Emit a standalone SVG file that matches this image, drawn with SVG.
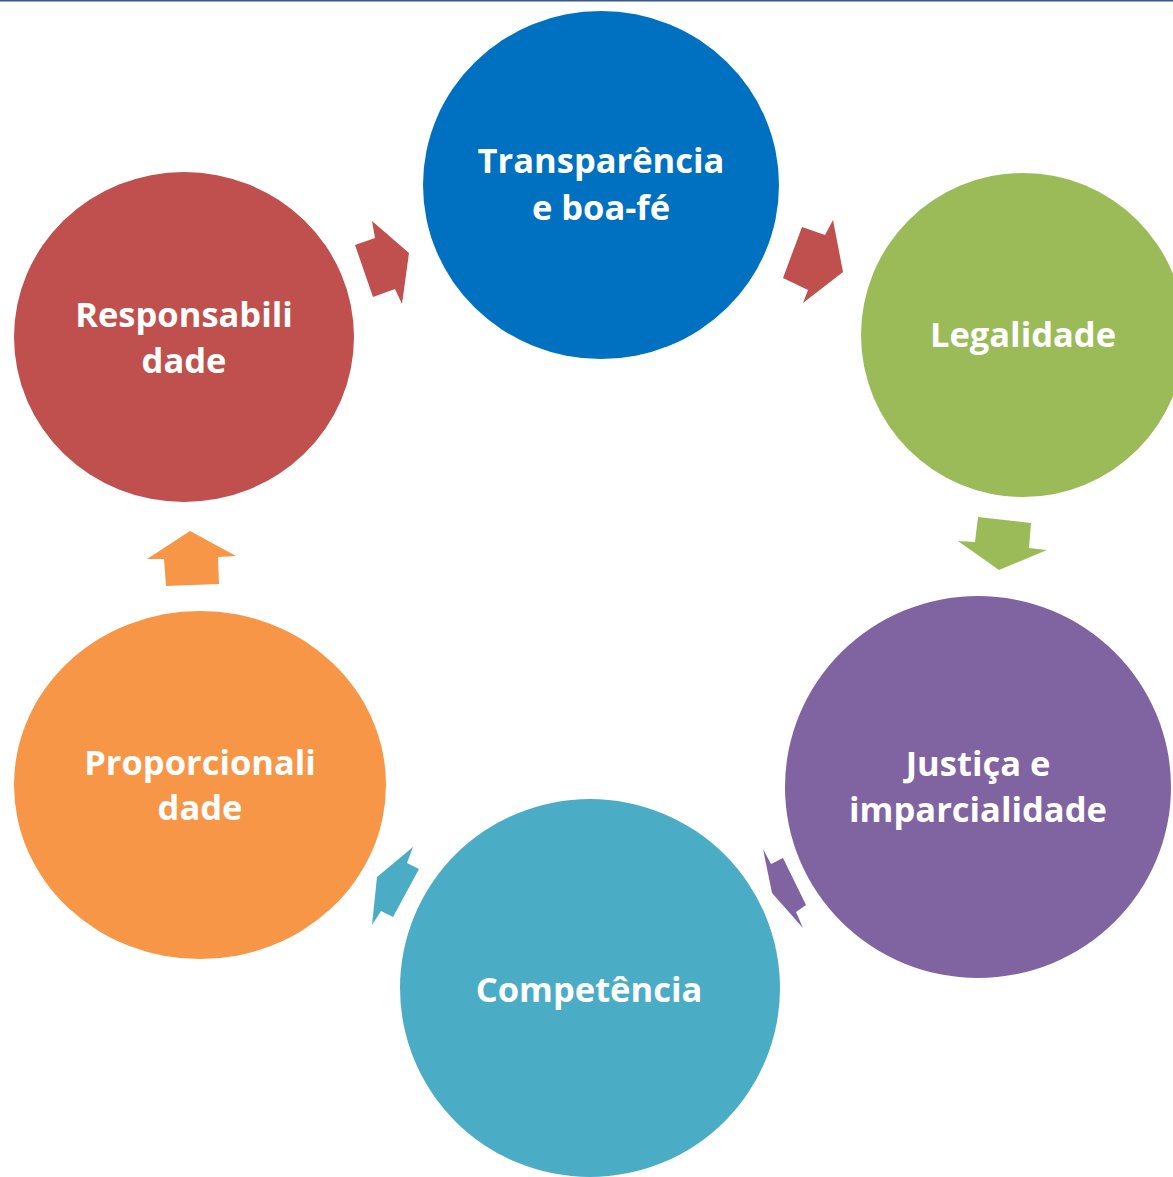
<svg xmlns="http://www.w3.org/2000/svg" width="1173" height="1177" viewBox="0 0 1173 1177">
<style>
.lbl{font-family:"Open Sans","Noto Sans","Liberation Sans",sans-serif;font-weight:bold;font-size:34.5px;fill:#fff;text-anchor:middle}
</style>
<rect width="1173" height="1177" fill="#fff"/>
<line x1="0" y1="0.8" x2="1173" y2="0.8" stroke="#34598a" stroke-width="1.6"/>
<g id="connectors">
<polygon fill="#C0504D" points="355,245 375,238 372,221 409,253 402,304 395,289 373,297"/>
<polygon fill="#C0504D" points="802,227 825,235 833,220 843,272 803,303 808,290 783,278"/>
<polygon fill="#9BBB59" points="978,517 1031,523 1029,548 1047,550 999,570 958,541 975,542"/>
<polygon fill="#8064A2" points="763,849 771,864 783,858 806,905 796,912 803,928 772,893"/>
<polygon fill="#4BACC6" points="413,847 407,863 419,869 393,917 381,911 372,925 377,877"/>
<polygon fill="#F79646" points="190,531 236,556 218,557 219,584 166,586 164,559 147,559"/>
</g>
<g id="transparencia">
<ellipse cx="601" cy="185" rx="178" ry="174" fill="#0070C0"/>
<text class="lbl" x="601" y="173">Transparência</text>
<text class="lbl" x="601" y="220">e boa-fé</text>
</g>
<g id="legalidade">
<ellipse cx="1023" cy="335" rx="162" ry="162" fill="#9BBB59"/>
<text class="lbl" x="1023" y="347">Legalidade</text>
</g>
<g id="justica">
<ellipse cx="978" cy="787" rx="193" ry="191" fill="#8064A2"/>
<text class="lbl" x="978" y="776">Justiça e</text>
<text class="lbl" x="978" y="822">imparcialidade</text>
</g>
<g id="competencia">
<ellipse cx="590" cy="988" rx="190" ry="189" fill="#4BACC6"/>
<text class="lbl" x="589" y="1002">Competência</text>
</g>
<g id="proporcionalidade">
<ellipse cx="200" cy="785" rx="186" ry="174" fill="#F79646"/>
<text class="lbl" x="200" y="775">Proporcionali</text>
<text class="lbl" x="200" y="820">dade</text>
</g>
<g id="responsabilidade">
<ellipse cx="184" cy="337" rx="170" ry="165" fill="#C0504D"/>
<text class="lbl" x="184" y="327">Responsabili</text>
<text class="lbl" x="184" y="373">dade</text>
</g>
</svg>
